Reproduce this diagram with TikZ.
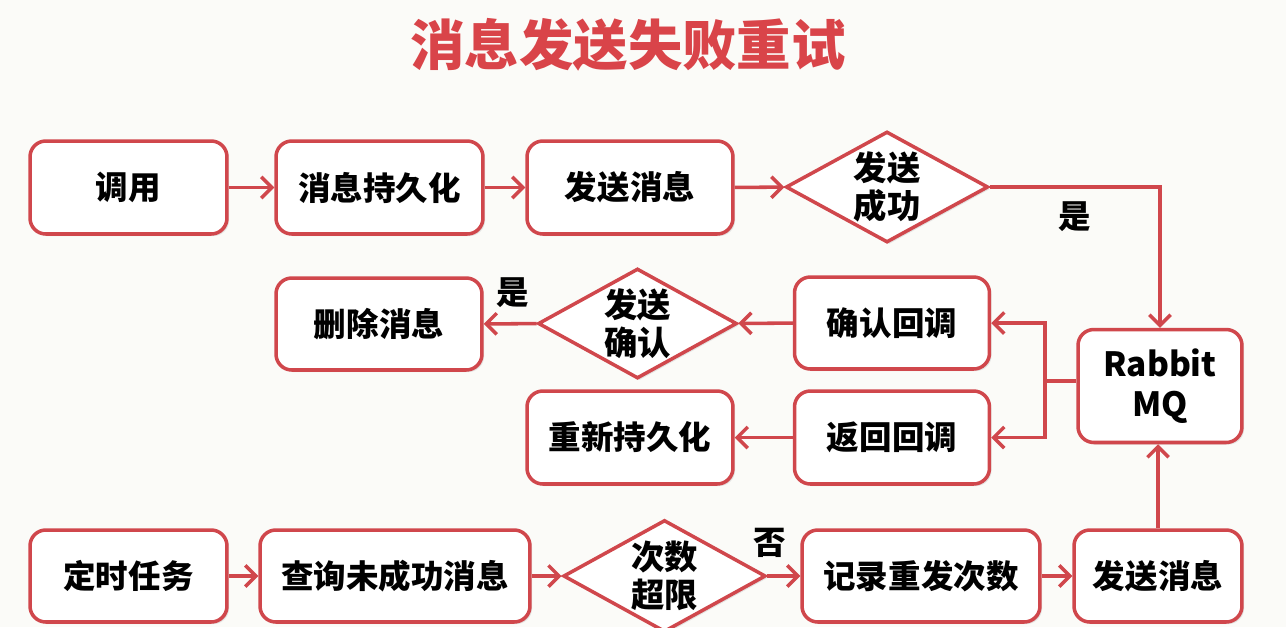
\documentclass[tikz,border=0pt]{standalone}
\usepackage{fontspec}
\newfontfamily\cjk{Noto Sans CJK SC}
\usetikzlibrary{shapes.geometric,arrows.meta,shadows}
\definecolor{lnred}{HTML}{D0474C}
\definecolor{ttred}{HTML}{D94449}
\definecolor{bg}{HTML}{FBFBF8}
\tikzset{
  shd/.style={drop shadow={opacity=0.18,shadow xshift=1.2pt,shadow yshift=-1.2pt}},
  box/.style={draw=lnred,line width=2pt,rounded corners=9pt,fill=white,inner sep=0pt,shd,
    font=\cjk\bfseries\fontsize{18.5}{22}\selectfont,align=center},
  dia/.style={diamond,aspect=1.8,draw=lnred,line width=2pt,fill=white,inner sep=0pt,shd,
    font=\cjk\bfseries\fontsize{19}{22}\selectfont,align=center},
  arr/.style={draw=lnred,line width=2pt,-{Straight Barb[length=6pt,width=12pt,line width=2pt]}},
  ln/.style={draw=lnred,line width=2pt},
  lbl/.style={font=\cjk\bfseries\fontsize{18.5}{22}\selectfont,inner sep=0pt}
}
\begin{document}
\begin{tikzpicture}[x=0.02cm,y=-0.02cm]
\fill[bg] (0,0) rectangle (1286,627);
\useasboundingbox (0,0) rectangle (1286,627);
\node[font=\cjk\bfseries\fontsize{31}{36}\selectfont,text=ttred] (title) at (628,45) {消息发送失败重试};
% row 1
\node[box,minimum width=3.94cm,minimum height=1.86cm] (call) at (128.5,187.5) {调用};
\node[box,minimum width=4.14cm,minimum height=1.86cm] (persist) at (379.5,187.5) {消息持久化};
\node[box,minimum width=4.12cm,minimum height=1.86cm] (send1) at (630,187.5) {发送消息};
\node[dia,minimum width=4.05cm,minimum height=2.22cm] (d1) at (887,187) {发送\\成功};
% right
\node[box,minimum width=3.28cm,minimum height=2.26cm,font=\cjk\bfseries\fontsize{19}{23}\selectfont] (mq) at (1160,386) {Rabbit\\MQ};
% row 2/3
\node[box,minimum width=3.9cm,minimum height=1.84cm] (cb1) at (892,323) {确认回调};
\node[box,minimum width=3.9cm,minimum height=1.86cm] (cb2) at (892,437.5) {返回回调};
\node[dia,minimum width=3.98cm,minimum height=2.2cm] (d2) at (637.5,323.5) {发送\\确认};
\node[box,minimum width=4.12cm,minimum height=1.84cm] (del) at (379,324) {删除消息};
\node[box,minimum width=4.12cm,minimum height=1.86cm] (rep) at (630,437.5) {重新持久化};
% bottom row
\node[box,minimum width=3.94cm,minimum height=1.84cm] (timer) at (128.5,576) {定时任务};
\node[box,minimum width=5.4cm,minimum height=1.84cm] (query) at (395,576) {查询未成功消息};
\node[dia,minimum width=4.05cm,minimum height=2.24cm] (d3) at (664.5,576) {次数\\超限};
\node[box,minimum width=4.76cm,minimum height=1.84cm] (rec) at (921,576) {记录重发次数};
\node[box,minimum width=3.36cm,minimum height=1.84cm] (send2) at (1158,576) {发送消息};
% connectors
\draw[arr] (call) -- (persist);
\draw[arr] (persist) -- (send1);
\draw[arr] (send1) -- (d1);
\draw[arr] (d1.east) -| (mq.north);
\node[lbl] (yes1) at (1075,217) {是};
\coordinate (j) at (1045,381);
\draw[ln] (mq.west |- j) -- (j);
\draw[arr] (j) |- (cb1.east);
\draw[arr] (j) |- (cb2.east);
\draw[arr] (cb1) -- (d2);
\draw[arr] (d2) -- (del);
\node[lbl] (yes2) at (513,293) {是};
\draw[arr] (cb2) -- (rep);
\draw[arr] (timer) -- (query);
\draw[arr] (query) -- (d3);
\draw[arr] (d3) -- (rec);
\node[lbl] (no) at (770,543) {否};
\draw[arr] (rec) -- (send2);
\draw[arr] (send2.north) -- (send2.north |- mq.south);
\end{tikzpicture}
\end{document}
